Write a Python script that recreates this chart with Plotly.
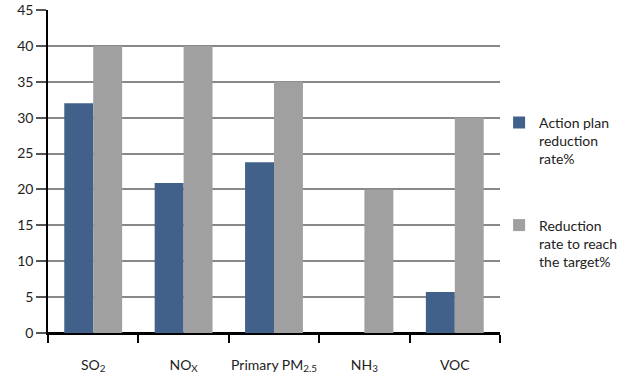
import plotly.graph_objects as go

# Pollutant categories and reduction rates (%)
categories = ["SO<sub>2</sub>", "NO<sub>X</sub>", "Primary PM<sub>2.5</sub>", "NH<sub>3</sub>", "VOC"]
action_plan = [32.0, 20.9, 23.8, None, 5.7]
target = [40, 40, 35, 20, 30]
y_ticks = [0, 5, 10, 15, 20, 25, 30, 35, 40, 45]

fig = go.Figure()
fig.add_trace(go.Bar(
    x=categories, y=action_plan,
    name="Action plan<br>reduction<br>rate%", legendgroup="a",
    marker=dict(color="#41618a", line=dict(width=0)),
))
fig.add_trace(go.Bar(
    x=categories, y=target,
    name="Reduction<br>rate to reach<br>the target%", legendgroup="b",
    marker=dict(color="#a0a0a0", line=dict(width=0)),
))

fig.update_layout(
    width=622, height=378,
    margin=dict(l=48, r=122, t=10, b=45, autoexpand=False),
    paper_bgcolor="white", plot_bgcolor="white",
    barmode="group", bargap=0.36, bargroupgap=0,
    font=dict(family="Lato, Open Sans, sans-serif", size=14, color="#222222"),
    showlegend=True,
    legend=dict(
        x=0.998, y=0.70, xanchor="left", yanchor="top", valign="top",
        font=dict(size=14), tracegroupgap=45, traceorder="grouped",
        bgcolor="rgba(0,0,0,0)",
    ),
    xaxis=dict(
        type="category",
        showline=True, linecolor="black", linewidth=1.5,
        ticks="outside", ticklen=8, tickcolor="black", tickwidth=1.5,
        tickson="boundaries", tickangle=0,
        showgrid=False,
        ticklabelstandoff=18,
    ),
    yaxis=dict(
        range=[0, 45], tickvals=y_ticks,
        showline=True, linecolor="black", linewidth=1.5,
        ticks="outside", ticklen=10, tickcolor="#555555", tickwidth=1.5,
        showgrid=True, gridcolor="#888888", gridwidth=1.5,
        zeroline=True, zerolinecolor="black", zerolinewidth=1.5,
    ),
)

fig.write_html("out.html")
